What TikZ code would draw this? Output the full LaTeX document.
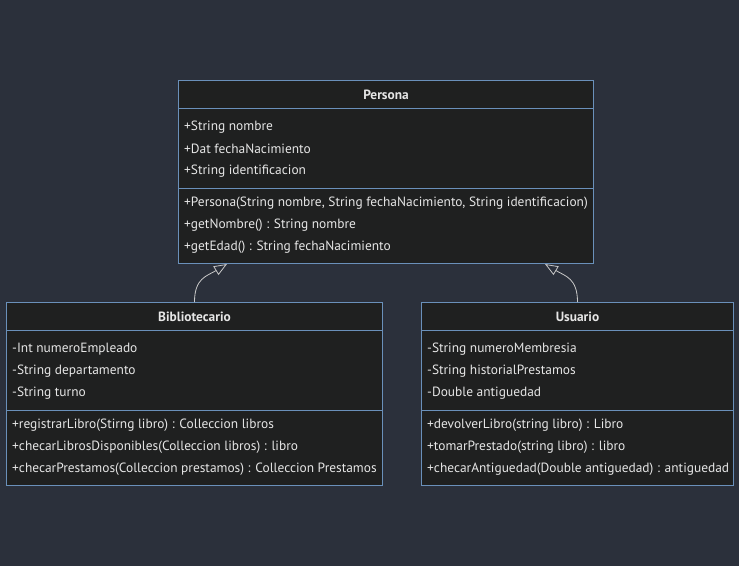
\documentclass[tikz,border=0pt]{standalone}
\usepackage{fontspec}
\setmainfont{PT Sans}
\usetikzlibrary{arrows.meta,positioning,calc}
\definecolor{bgdark}{HTML}{2B303B}
\definecolor{boxfill}{HTML}{1F2020}
\definecolor{boxline}{HTML}{6A90BA}
\definecolor{txtc}{HTML}{E6E6E6}
\definecolor{arrc}{HTML}{C8C8C8}
\tikzset{
  cls/.style={draw=boxline, fill=boxfill, line width=1pt, anchor=north west, inner sep=0pt},
  hdr/.style={font=\bfseries\fontsize{13.4}{15}\selectfont, text=txtc},
  mem/.style={anchor=west, inner sep=0pt, font=\fontsize{13.4}{15}\selectfont, text=txtc},
  sep/.style={draw=boxline, line width=1pt},
  inh/.style={-{Triangle[open, length=13pt, width=10pt]}, draw=arrc, line width=0.8pt},
}
\begin{document}
\begin{tikzpicture}[x=1pt, y=-1pt]
  \fill[bgdark] (0,0) rectangle (739,566);
  \useasboundingbox (0,0) rectangle (739,566);
  % class boxes
  \node[cls, minimum width=415pt, minimum height=183pt] (persona) at (178,80) {};
  \node[cls, minimum width=376pt, minimum height=183pt] (biblio) at (6,302) {};
  \node[cls, minimum width=312pt, minimum height=183pt] (usuario) at (421,302) {};
  \foreach \c in {persona,biblio,usuario} {
    \draw[sep] ($(\c.north west)+(0,28)$) -- ($(\c.north east)+(0,28)$);
    \draw[sep] ($(\c.north west)+(0,108)$) -- ($(\c.north east)+(0,108)$);
  }
  % Persona
  \node[hdr] (personaT) at ($(persona.north)+(0,14.5)$) {Persona};
  \foreach \t [count=\i] in {+String nombre, +Dat fechaNacimiento, +String identificacion}
    \node[mem] (pa\i) at ($(persona.north west)+(6,25+22*\i)$) {\t};
  \foreach \t [count=\i] in {{+Persona(String nombre, String fechaNacimiento, String identificacion)}, +getNombre() : String nombre, +getEdad() : String fechaNacimiento}
    \node[mem] (pm\i) at ($(persona.north west)+(6,101+22*\i)$) {\t};
  % Bibliotecario
  \node[hdr] (biblioT) at ($(biblio.north)+(0,14.5)$) {Bibliotecario};
  \foreach \t [count=\i] in {-Int numeroEmpleado, -String departamento, -String turno}
    \node[mem] (ba\i) at ($(biblio.north west)+(6,25+22*\i)$) {\t};
  \foreach \t [count=\i] in {+registrarLibro(Stirng libro) : Colleccion libros, +checarLibrosDisponibles(Colleccion libros) : libro, +checarPrestamos(Colleccion prestamos) : Colleccion Prestamos}
    \node[mem] (bm\i) at ($(biblio.north west)+(6,101+22*\i)$) {\t};
  % Usuario
  \node[hdr] (usuarioT) at ($(usuario.north)+(0,14.5)$) {Usuario};
  \foreach \t [count=\i] in {-String numeroMembresia, -String historialPrestamos, -Double antiguedad}
    \node[mem] (ua\i) at ($(usuario.north west)+(6,25+22*\i)$) {\t};
  \foreach \t [count=\i] in {+devolverLibro(string libro) : Libro, +tomarPrestado(string libro) : libro, +checarAntiguedad(Double antiguedad) : antiguedad}
    \node[mem] (um\i) at ($(usuario.north west)+(6,101+22*\i)$) {\t};
  % inheritance
  \coordinate (pl) at ($(persona.south west)+(49,0)$);
  \coordinate (pr) at ($(persona.south east)+(-49,0)$);
  \draw[inh] (biblio.north) .. controls +(0,-24) and +(-20,12) .. (pl);
  \draw[inh] (usuario.north) .. controls +(0,-24) and +(20,12) .. (pr);
\end{tikzpicture}
\end{document}
